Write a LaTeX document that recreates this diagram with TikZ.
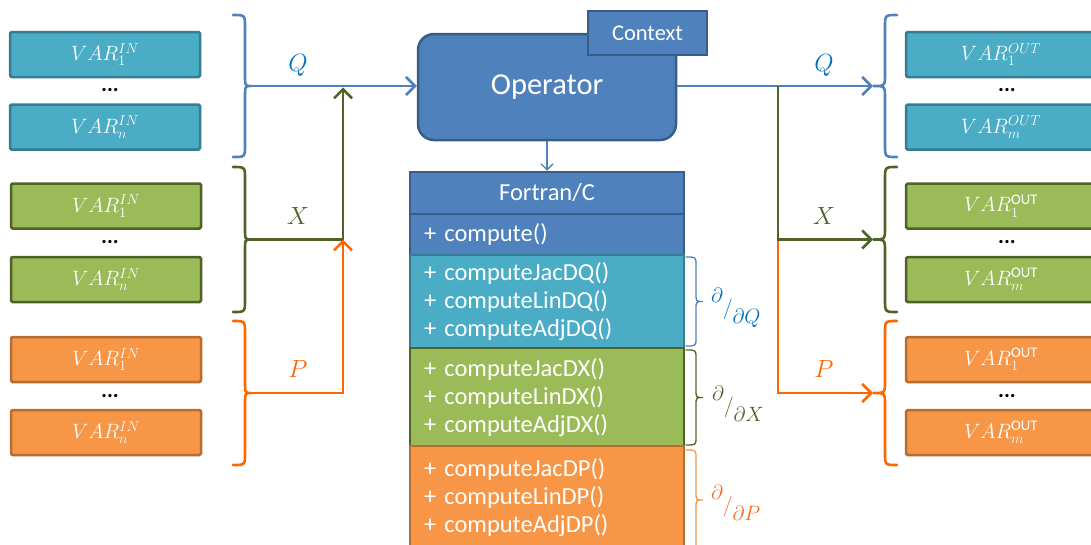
\documentclass[tikz,border=0pt]{standalone}
\usepackage{fontspec}
\setmainfont{Carlito}
\usetikzlibrary{arrows.meta}

\definecolor{qfill}{HTML}{4BACC6}
\definecolor{qdraw}{HTML}{357D91}
\definecolor{xfill}{HTML}{9BBB59}
\definecolor{xdraw}{HTML}{4F6228}
\definecolor{pfill}{HTML}{F79646}
\definecolor{pdraw}{HTML}{B66D31}
\definecolor{opfill}{HTML}{4F81BD}
\definecolor{opdraw}{HTML}{385D8A}
\definecolor{qline}{HTML}{4F81BD}
\definecolor{qlabel}{HTML}{0070C0}
\definecolor{xline}{HTML}{4F6228}
\definecolor{pline}{HTML}{FF6600}
\definecolor{plabel}{HTML}{F26D21}

% brace: style, end x, spine x, tip x, top y, bottom y, curl radius
\newcommand{\curlybrace}[7]{%
  \draw[#1] (#2,#5) .. controls (#3,#5) .. (#3,#5+#7)
    -- (#3,{(#5+#6)/2-#7}) .. controls (#3,{(#5+#6)/2}) .. (#4,{(#5+#6)/2})
    .. controls (#3,{(#5+#6)/2}) .. (#3,{(#5+#6)/2+#7})
    -- (#3,#6-#7) .. controls (#3,#6) .. (#2,#6);}

% partial derivative label in slashed form
\newcommand{\slashderiv}[1]{%
  \raisebox{12.5pt}{$\partial$}$/$\raisebox{-8.5pt}{$\partial #1$}}

\tikzset{
  varbox/.style={draw, line width=2.5pt, rounded corners=1.5pt,
    minimum width=190pt, minimum height=45pt, inner sep=0pt,
    text=white, font=\fontsize{21}{21}\selectfont},
  qbox/.style={varbox, fill=qfill, draw=qdraw},
  xbox/.style={varbox, fill=xfill, draw=xdraw},
  pbox/.style={varbox, fill=pfill, draw=pdraw},
  dots/.style={font=\fontsize{22}{22}\selectfont\bfseries, inner sep=0pt},
  flow/.style={line width=2.6pt},
  barb/.style={-{Straight Barb[length=9pt,width=18pt,line width=2.6pt]}},
  lbl/.style={font=\fontsize{23}{23}\selectfont, inner sep=0pt},
  bigbrace/.style={line width=2.6pt, line cap=round},
  smallbrace/.style={line width=1.3pt, line cap=round},
  section/.style={draw, line width=2.5pt, minimum width=274pt, text width=246pt,
    inner xsep=14pt, inner ysep=0pt, align=left, text=white,
    font=\fontsize{24.5}{28}\selectfont},
  deriv/.style={font=\fontsize{22}{22}\selectfont, inner sep=0pt, anchor=base west},
}

\begin{document}
\begin{tikzpicture}[x=1pt, y=-1pt]
\useasboundingbox (0,0) rectangle (1091,544);

% input variables
\node[qbox] (qin1) at (105,54.5) {$VAR_1^{IN}$};
\node[dots] (qind) at (110,90) {...};
\node[qbox] (qinn) at (105,127) {$VAR_n^{IN}$};
\node[xbox] (xin1) at (106,206) {$VAR_1^{IN}$};
\node[dots] (xind) at (110,242) {...};
\node[xbox] (xinn) at (106,279.5) {$VAR_n^{IN}$};
\node[pbox] (pin1) at (106,359.5) {$VAR_1^{IN}$};
\node[dots] (pind) at (110,396) {...};
\node[pbox] (pinn) at (106,432.5) {$VAR_n^{IN}$};

% output variables
\node[qbox] (qout1) at (1001,54.5) {$VAR_1^{OUT}$};
\node[dots] (qoutd) at (1007,90) {...};
\node[qbox] (qoutm) at (1001,127) {$VAR_m^{OUT}$};
\node[xbox] (xout1) at (1001,206) {$VAR_1^{\mathrm{OUT}}$};
\node[dots] (xoutd) at (1007,242) {...};
\node[xbox] (xoutm) at (1001,279.5) {$VAR_m^{\mathrm{OUT}}$};
\node[pbox] (pout1) at (1001,359.5) {$VAR_1^{\mathrm{OUT}}$};
\node[dots] (poutd) at (1007,396) {...};
\node[pbox] (poutm) at (1001,432.5) {$VAR_m^{\mathrm{OUT}}$};

% braces grouping the variables
\curlybrace{bigbrace, qline}{233}{245}{251}{15}{157}{12}
\curlybrace{bigbrace, xline}{233}{245}{251}{167}{312}{12}
\curlybrace{bigbrace, pline}{233}{245}{251}{321}{465}{12}
\curlybrace{bigbrace, qline}{897}{885}{873}{15}{157}{12}
\curlybrace{bigbrace, xline}{897}{885}{873}{167}{312}{12}
\curlybrace{bigbrace, pline}{897}{885}{873}{321}{465}{12}
\coordinate (qL) at (251,86);
\coordinate (xL) at (251,239.5);
\coordinate (pL) at (251,393);
\coordinate (qR) at (873,86);
\coordinate (xR) at (873,239.5);
\coordinate (pR) at (873,393);

% operator and its context
\node[draw=opdraw, fill=opfill, line width=2.5pt, rounded corners=16pt,
  minimum width=258pt, minimum height=106pt, text=white,
  font=\fontsize{30.5}{30.5}\selectfont] (op) at (547,87) {Operator};
\node[draw=opdraw, fill=opfill, line width=2.5pt, minimum width=119pt,
  minimum height=44pt, text=white, font=\fontsize{22.5}{22.5}\selectfont]
  (ctx) at (647.5,33) {Context};

% class with its methods
\node[section, fill=opfill, draw=opdraw, minimum height=42pt, align=center]
  (cls) at (547,193) {Fortran/C};
\node[section, fill=opfill, draw=opdraw, minimum height=41pt]
  (cmp) at (547,234.5) {+ compute()};
\node[section, fill=qfill, draw=qdraw, minimum height=93pt]
  (dq) at (547,301.5) {+ computeJacDQ()\\+ computeLinDQ()\\+ computeAdjDQ()};
\node[section, fill=xfill, draw=xdraw, minimum height=99pt]
  (dx) at (547,397.5) {+ computeJacDX()\\+ computeLinDX()\\+ computeAdjDX()};
\node[section, fill=pfill, draw=pdraw, minimum height=104pt]
  (dp) at (547,498) {+ computeJacDP()\\+ computeLinDP()\\+ computeAdjDP()};

\draw[line width=1.4pt, opfill, -{Straight Barb[length=6pt,width=12pt,line width=1.4pt]}]
  (op.south) -- (cls.north);

% derivative braces
\curlybrace{smallbrace, qline}{686}{696}{703}{257}{346}{8}
\curlybrace{smallbrace, xline}{686}{696}{703}{350}{445}{8}
\curlybrace{smallbrace, pfill}{686}{696}{703}{450}{550}{8}
\node[deriv, qlabel] (lq) at (711,314.5) {\slashderiv{Q}};
\node[deriv, xline] (lx) at (712,412.5) {\slashderiv{X}};
\node[deriv, plabel] (lp) at (711,511.5) {\slashderiv{P}};

% input flows
\coordinate (jq) at (343,87.5);
\coordinate (jx) at (343,239.5);
\coordinate (jp) at (343,393);
\draw[flow, qline, barb] (qL) -- (op.west |- qL);
\draw[flow, xline, barb] (xL) -- (jx) -- (jq);
\draw[flow, pline, barb] (pL) -- (jp) -- (jx);
\node[lbl, qlabel] (lqin) at (298,65) {$Q$};
\node[lbl, xline] (lxin) at (298,216) {$X$};
\node[lbl, pline] (lpin) at (298,369) {$P$};

% output flows
\coordinate (kq) at (778,86);
\coordinate (kx) at (778,239.5);
\coordinate (kp) at (778,393);
\draw[flow, qline, barb] (op.east |- qR) -- (qR);
\draw[flow, pline, barb] (kx) -- (kp) -- (pR);
\draw[flow, xline, barb] (kq) -- (kx) -- (xR);
\node[lbl, qlabel] (lqout) at (824,65) {$Q$};
\node[lbl, xline] (lxout) at (824,216) {$X$};
\node[lbl, pline] (lpout) at (824,369) {$P$};
\end{tikzpicture}
\end{document}
